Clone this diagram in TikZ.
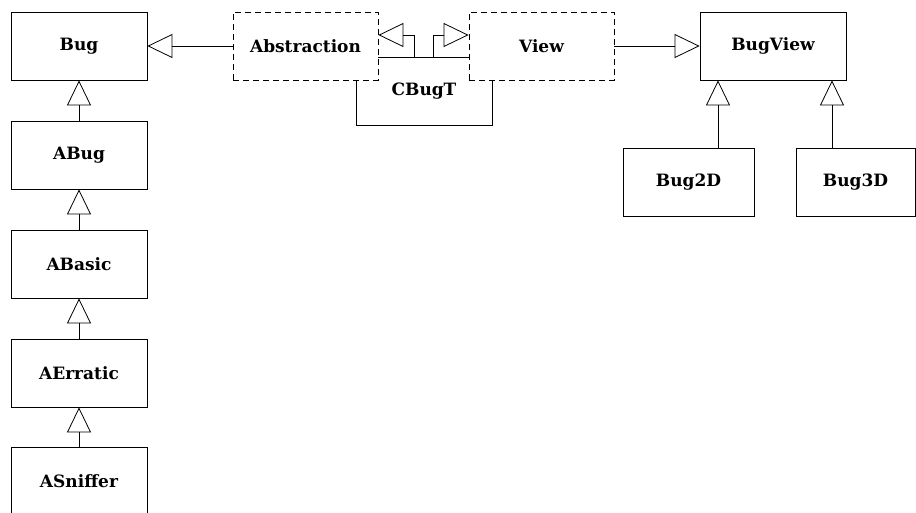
\documentclass[tikz,border=0pt]{standalone}
\usepackage{fontspec}
\setmainfont{DejaVu Serif}
\usetikzlibrary{arrows.meta}
\begin{document}
\begin{tikzpicture}[
        % --- GENERAL SETTINGS ---
        x=1pt, y=-1pt, % one unit = one pixel, y grows downwards
        % Style for a class (plain rectangle)
        class/.style={
            rectangle,
            draw, % border
            fill=white,
            minimum width=136pt,
            minimum height=68pt,
            line width=0.8pt, % border width
            font=\fontsize{17}{20}\selectfont\bfseries
        },
        % Style for an abstract class (dashed rectangle)
        abstract/.style={
            class,
            dash pattern=on 6pt off 4pt
        },
        % Style for the inheritance arrows
        arrow/.style={
            -{Triangle[open, length=25pt, width=24pt]}, % hollow triangle
            line width=0.8pt
        }
    ]

    \useasboundingbox (0,0) rectangle (916,512);

    % --- LEFT COLUMN: BUG HIERARCHY ---
    \node[class] (Bug) at (79, 46) {Bug};
    \node[class] (ABug) at (79, 155) {ABug};
    \node[class] (ABasic) at (79, 264) {ABasic};
    \node[class] (AErratic) at (79, 373) {AErratic};
    \node[class] (ASniffer) at (79, 481) {ASniffer};

    % Inheritance arrows
    \draw[arrow] (ABug) to (Bug);
    \draw[arrow] (ABasic) to (ABug);
    \draw[arrow] (AErratic) to (ABasic);
    \draw[arrow] (ASniffer) to (AErratic);

    % --- MIDDLE: CBugT BEHIND THE TWO ABSTRACT CLASSES ---
    \node[class] (CBugT) at (424, 91) {CBugT};
    \node[abstract, minimum width=145pt] (Abstraction) at (305.5, 46) {Abstraction};
    \node[abstract, minimum width=145pt] (View) at (541.5, 46) {View};

    % Arrows
    \draw[arrow] (Abstraction) to (Bug);
    \draw[arrow] ([xshift=-10pt]CBugT.north) |- ([yshift=11pt]Abstraction.east);
    \draw[arrow] ([xshift=9pt]CBugT.north) |- ([yshift=11pt]View.west);

    % --- RIGHT: VIEW HIERARCHY ---
    \node[class, minimum width=146pt] (BugView) at (773, 46) {BugView};
    \node[class, minimum width=131pt] (Bug2D) at (688.5, 182) {Bug2D};
    \node[class, minimum width=119pt] (Bug3D) at (855.5, 182) {Bug3D};

    % Arrows
    \draw[arrow] (View) to (BugView);
    \draw[arrow] ([xshift=29.5pt]Bug2D.north) -- ([xshift=29.5pt]Bug2D.north |- BugView.south);
    \draw[arrow] ([xshift=-23.5pt]Bug3D.north) -- ([xshift=-23.5pt]Bug3D.north |- BugView.south);

\end{tikzpicture}
\end{document}
